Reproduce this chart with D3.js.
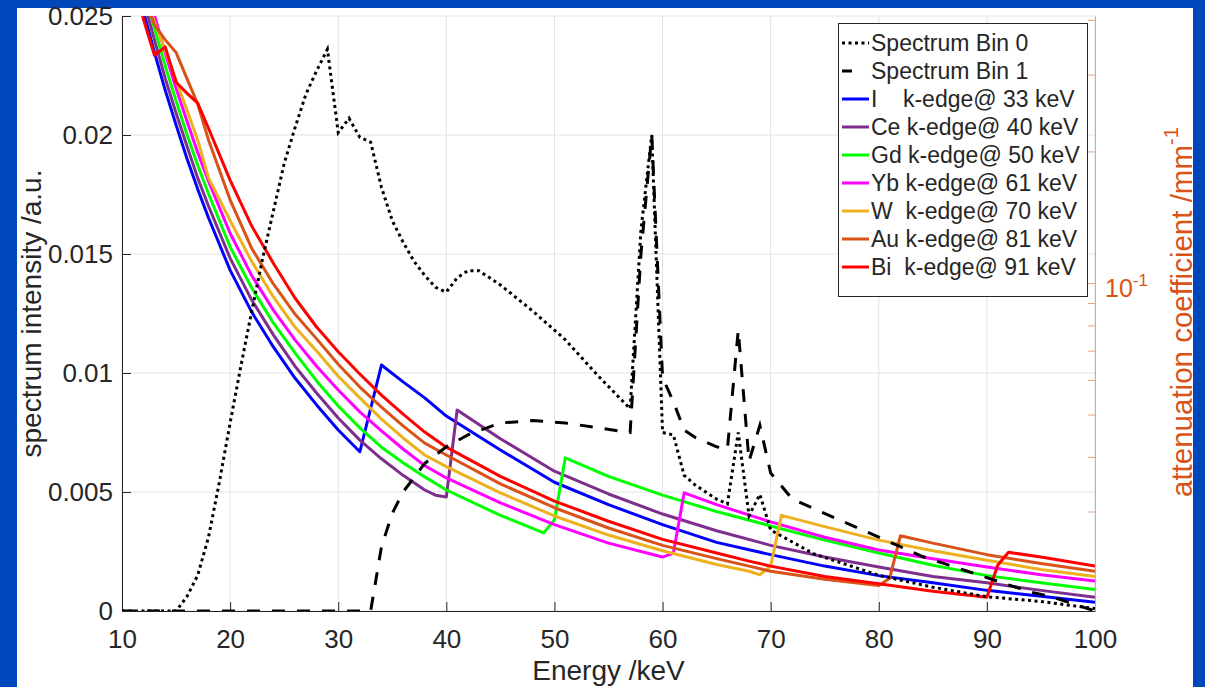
<!DOCTYPE html>
<html>
<head>
<meta charset="utf-8">
<script src="https://cdn.jsdelivr.net/npm/d3@7"></script>
<style>
  body { margin: 0; background: #0047bb; }
  text { font-family: "Liberation Sans", Arial, sans-serif; }
</style>
</head>
<body>
<script>
// spectra (left axis)
const bin0E = [10, 15, 16, 17, 18, 19, 20, 21, 22, 23, 24, 25, 26, 27, 28, 29, 30, 31, 32, 33, 34, 35, 36, 37, 38, 39, 40, 41, 42, 43, 44, 45, 48, 51, 54, 57, 58, 59, 60, 61, 62, 63, 64, 65, 66, 67, 68, 69, 70, 72, 74, 76, 78, 80, 85, 90, 95, 100];
const bin0 = [0, 0, 0.0006, 0.0015, 0.0031, 0.0054, 0.0079, 0.0103, 0.0126, 0.0148, 0.0168, 0.0188, 0.0203, 0.0217, 0.0227, 0.0236, 0.0201, 0.0207, 0.0199, 0.0197, 0.0178, 0.0164, 0.0155, 0.0147, 0.0141, 0.0136, 0.0134, 0.0140, 0.0143, 0.0143, 0.0140, 0.0137, 0.0126, 0.0114, 0.0099, 0.0085, 0.0160, 0.0200, 0.0075, 0.0074, 0.0057, 0.0053, 0.0050, 0.0047, 0.0045, 0.0075, 0.0040, 0.0049, 0.0034, 0.0029, 0.0024, 0.0021, 0.0018, 0.0015, 0.0010, 0.0006, 0.0004, 0.0001];
const bin1E = [10, 33, 34, 35, 36, 37, 38, 40, 42, 45, 48, 51, 54, 57, 58, 59, 60, 61, 62, 63, 64, 65, 66, 67, 68, 69, 70, 72, 74, 76, 78, 80, 82, 84, 86, 88, 90, 92, 94, 96, 98, 100];
const bin1 = [0, 0, 0.0027, 0.0041, 0.0050, 0.0056, 0.0062, 0.0069, 0.0074, 0.0079, 0.0080, 0.0079, 0.0077, 0.0075, 0.0150, 0.0200, 0.0098, 0.0088, 0.0076, 0.0073, 0.0071, 0.0069, 0.0068, 0.0118, 0.0063, 0.0078, 0.0058, 0.0047, 0.0043, 0.0039, 0.0035, 0.0031, 0.0027, 0.0023, 0.0020, 0.0017, 0.0014, 0.0011, 0.0008, 0.0006, 0.0003, 0];

// attenuation coefficients /mm^-1 (right axis)
const iE = [10, 11, 12, 13, 14, 15, 16, 17, 18, 20, 22, 24, 26, 28, 30, 32, 34, 36, 38, 40, 45, 50, 55, 60, 65, 70, 75, 80, 85, 90, 95, 100];
const iMu = [0.677, 0.525, 0.417, 0.337, 0.276, 0.230, 0.193, 0.164, 0.141, 0.107, 0.0858, 0.0714, 0.0606, 0.0526, 0.0461, 0.0411, 0.0649, 0.0594, 0.0546, 0.0496, 0.0415, 0.0350, 0.0311, 0.0280, 0.0255, 0.0239, 0.0225, 0.0214, 0.0206, 0.0198, 0.0192, 0.0186];
const ceE = [10, 11, 12, 13, 14, 15, 16, 17, 18, 20, 22, 24, 26, 28, 30, 32, 34, 36, 38, 39, 40, 41, 45, 50, 55, 60, 65, 70, 75, 80, 85, 90, 95, 100];
const ceMu = [0.721, 0.560, 0.444, 0.360, 0.294, 0.245, 0.206, 0.174, 0.150, 0.114, 0.0914, 0.0761, 0.0645, 0.0560, 0.0491, 0.0437, 0.0396, 0.0363, 0.0336, 0.0327, 0.0324, 0.0512, 0.0440, 0.0371, 0.0329, 0.0296, 0.0271, 0.0251, 0.0236, 0.0224, 0.0213, 0.0206, 0.0198, 0.0191];
const gdE = [10, 11, 12, 13, 14, 15, 16, 17, 18, 20, 22, 24, 26, 28, 30, 32, 34, 36, 38, 40, 45, 49, 50, 51, 55, 60, 65, 70, 75, 80, 85, 90, 95, 100];
const gdMu = [0.768, 0.599, 0.473, 0.383, 0.314, 0.261, 0.219, 0.186, 0.160, 0.121, 0.0974, 0.0810, 0.0692, 0.0597, 0.0523, 0.0466, 0.0421, 0.0388, 0.0360, 0.0336, 0.0294, 0.0268, 0.0287, 0.0398, 0.0361, 0.0327, 0.0300, 0.0278, 0.0258, 0.0241, 0.0226, 0.0214, 0.0206, 0.0199];
const ybE = [10, 11, 12, 13, 14, 15, 16, 17, 18, 20, 22, 24, 26, 28, 30, 32, 34, 36, 38, 40, 45, 50, 55, 60, 61, 62, 65, 70, 75, 80, 85, 90, 95, 100];
const ybMu = [0.819, 0.642, 0.509, 0.410, 0.336, 0.279, 0.235, 0.199, 0.171, 0.130, 0.104, 0.0867, 0.0741, 0.0645, 0.0569, 0.0507, 0.0459, 0.0417, 0.0382, 0.0358, 0.0314, 0.0280, 0.0254, 0.0236, 0.0241, 0.0331, 0.0311, 0.0284, 0.0262, 0.0245, 0.0234, 0.0224, 0.0215, 0.0208];
const wE = [10, 11, 12, 13, 14, 15, 16, 17, 18, 20, 22, 24, 26, 28, 30, 32, 34, 36, 38, 40, 45, 50, 55, 60, 65, 68, 69, 70, 71, 75, 80, 85, 90, 95, 100];
const wMu = [0.732, 0.578, 0.463, 0.396, 0.341, 0.291, 0.249, 0.2125, 0.174, 0.139, 0.112, 0.0929, 0.0793, 0.0699, 0.0612, 0.0546, 0.0488, 0.0442, 0.0404, 0.0380, 0.0331, 0.0293, 0.0265, 0.0244, 0.0227, 0.0219, 0.0215, 0.0225, 0.0294, 0.0277, 0.0258, 0.0244, 0.0232, 0.0221, 0.0213];
const auE = [10, 11, 12, 13, 14, 15, 16, 17, 18, 20, 22, 24, 26, 28, 30, 32, 34, 36, 38, 40, 45, 50, 55, 60, 65, 68, 70, 75, 80, 81, 82, 85, 90, 95, 100];
const auMu = [0.752, 0.593, 0.456, 0.390, 0.360, 0.337, 0.294, 0.257, 0.2125, 0.155, 0.120, 0.0995, 0.0849, 0.0745, 0.0652, 0.0578, 0.0520, 0.0471, 0.0430, 0.0404, 0.0347, 0.0306, 0.0275, 0.0251, 0.0234, 0.0225, 0.0219, 0.0210, 0.0203, 0.0211, 0.0264, 0.0254, 0.0239, 0.0228, 0.0219];
const biE = [10, 11, 12, 13, 14, 15, 16, 17, 18, 20, 22, 24, 26, 28, 30, 32, 34, 36, 38, 40, 45, 50, 55, 60, 65, 68, 70, 75, 80, 85, 90, 91, 92, 95, 100];
const biMu = [0.659, 0.506, 0.400, 0.332, 0.347, 0.288, 0.272, 0.258, 0.226, 0.172, 0.135, 0.111, 0.0924, 0.0793, 0.0696, 0.0619, 0.0554, 0.0501, 0.0456, 0.0421, 0.0361, 0.0317, 0.0285, 0.0259, 0.0241, 0.0231, 0.0225, 0.0213, 0.0205, 0.0197, 0.0191, 0.0226, 0.0242, 0.0236, 0.0225];

const legendLabels = ["Spectrum Bin 0", "Spectrum Bin 1", "I    k-edge@ 33 keV", "Ce k-edge@ 40 keV", "Gd k-edge@ 50 keV", "Yb k-edge@ 61 keV", "W  k-edge@ 70 keV", "Au k-edge@ 81 keV", "Bi  k-edge@ 91 keV"];
const elementColors = ["#0000ff", "#7e2f8e", "#00ff00", "#ff00ff", "#edb120", "#d95319", "#ff0000"];
const xTicks = [10, 20, 30, 40, 50, 60, 70, 80, 90, 100];
const yTicks = [0, 0.005, 0.01, 0.015, 0.02, 0.025];
const yTickLabels = ["0", "0.005", "0.01", "0.015", "0.02", "0.025"];
const yRightTicks = [0.02, 0.03, 0.04, 0.05, 0.06, 0.07, 0.08, 0.09, 0.1, 0.2, 0.3, 0.4];

const width = 1205, height = 687;
const margin = {top: 16, right: 110, bottom: 76, left: 122};
const axisColor = "#262626", rightColor = "#d95319";

const svg = d3.select("body").append("svg")
  .attr("width", width)
  .attr("height", height);

svg.append("rect").attr("width", width).attr("height", height).attr("fill", "#0047bb");
svg.append("rect").attr("x", 17).attr("y", 8).attr("width", 1176).attr("height", 679).attr("fill", "#fff");

const x = d3.scaleLinear().domain([10, 100]).range([margin.left, width - margin.right]);
const y = d3.scaleLinear().domain([0, 0.025]).range([height - margin.bottom, margin.top]);
const yR = d3.scaleLog().domain([0.01776, 0.4083]).range([height - margin.bottom, margin.top]);

svg.append("clipPath").attr("id", "plot")
  .append("rect")
  .attr("x", x(10)).attr("y", y(0.025))
  .attr("width", x(100) - x(10)).attr("height", y(0) - y(0.025));

// grid
svg.append("g").selectAll("line").data(xTicks).join("line")
  .attr("x1", d => x(d)).attr("x2", d => x(d))
  .attr("y1", y(0)).attr("y2", y(0.025))
  .attr("stroke", "#e3e3e3");
svg.append("g").selectAll("line").data(yTicks).join("line")
  .attr("x1", x(10)).attr("x2", x(100))
  .attr("y1", d => y(d)).attr("y2", d => y(d))
  .attr("stroke", "#e3e3e3");

// axes
const xAxis = svg.append("g")
  .attr("transform", `translate(0,${y(0)})`)
  .call(d3.axisBottom(x).tickValues(xTicks).tickSize(-9).tickSizeOuter(0).tickPadding(19));
const yAxis = svg.append("g")
  .attr("transform", `translate(${x(10)},0)`)
  .call(d3.axisLeft(y).tickValues(yTicks).tickFormat((d, i) => yTickLabels[i]).tickSize(-9).tickSizeOuter(0).tickPadding(9));
[xAxis, yAxis].forEach(g => {
  g.selectAll("path, line").attr("stroke", axisColor);
  g.selectAll("text").attr("fill", axisColor).style("font-size", "26px");
  g.attr("font-family", null);
});

const yAxisR = svg.append("g")
  .attr("transform", `translate(${x(100)},0)`)
  .call(d3.axisRight(yR).tickValues(yRightTicks).tickFormat("").tickSize(-7).tickSizeOuter(0));
yAxisR.selectAll("path, line").attr("stroke", "#dfa588");

const tenth = svg.append("text")
  .attr("x", x(100) + 10).attr("y", yR(0.1) + 14)
  .attr("fill", rightColor).style("font-size", "25px")
  .text("10");
tenth.append("tspan").attr("dy", -11).style("font-size", "17px").text("-1");

// lines
const lineR = d3.line().x(d => x(d[0])).y(d => yR(d[1]));
const lineL = d3.line().x(d => x(d[0])).y(d => y(d[1]));

const elements = [
  [iE, iMu], [ceE, ceMu], [gdE, gdMu], [ybE, ybMu], [wE, wMu], [auE, auMu], [biE, biMu]
];
const plot = svg.append("g").attr("clip-path", "url(#plot)");
elements.forEach((s, i) => {
  plot.append("path")
    .datum(d3.zip(s[0], s[1]))
    .attr("d", lineR)
    .attr("fill", "none")
    .attr("stroke", elementColors[i])
    .attr("stroke-width", 3)
    .attr("stroke-linejoin", "round");
});

plot.append("path")
  .datum(d3.zip(bin1E, bin1))
  .attr("d", lineL)
  .attr("fill", "none").attr("stroke", "#000")
  .attr("stroke-width", 3).attr("stroke-dasharray", "13,12");
plot.append("path")
  .datum(d3.zip(bin0E, bin0))
  .attr("d", lineL)
  .attr("fill", "none").attr("stroke", "#000")
  .attr("stroke-width", 3).attr("stroke-dasharray", "3,3.5");

// axis titles
svg.append("text")
  .attr("x", (x(10) + x(100)) / 2).attr("y", 680)
  .attr("text-anchor", "middle").attr("fill", axisColor)
  .style("font-size", "28px")
  .text("Energy /keV");
svg.append("text")
  .attr("transform", `translate(41,${(y(0) + y(0.025)) / 2}) rotate(-90)`)
  .attr("text-anchor", "middle").attr("fill", axisColor)
  .style("font-size", "28px")
  .text("spectrum intensity /a.u.");
const rLabel = svg.append("text")
  .attr("transform", `translate(1192,497) rotate(-90)`)
  .attr("fill", rightColor)
  .style("font-size", "29.5px")
  .text("attenuation coefficient /mm");
rLabel.append("tspan").attr("dy", -14).style("font-size", "20px").text("-1");

// legend
const legend = svg.append("g").attr("transform", "translate(838,23)");
legend.append("rect")
  .attr("x", 0.5).attr("y", 0.5).attr("width", 249).attr("height", 273)
  .attr("fill", "#fff").attr("stroke", axisColor);
legendLabels.forEach((label, i) => {
  const row = legend.append("g").attr("transform", `translate(0,${20 + i * 28})`);
  row.append("line")
    .attr("x1", 4).attr("x2", 31)
    .attr("stroke", i < 2 ? "#000" : elementColors[i - 2])
    .attr("stroke-width", 3)
    .attr("stroke-dasharray", i === 0 ? "3,3.5" : i === 1 ? "10,20" : null);
  row.append("text")
    .attr("x", 33).attr("dy", "0.36em")
    .attr("fill", axisColor)
    .style("font-size", "23px")
    .style("white-space", "pre")
    .text(label);
});
</script>
</body>
</html>
